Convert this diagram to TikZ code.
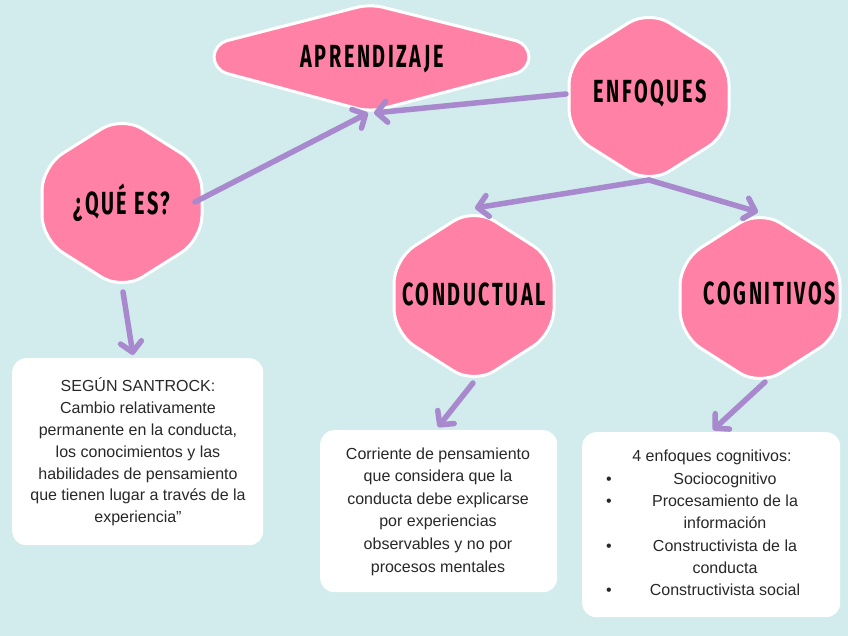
\documentclass[tikz,border=0pt]{standalone}
\usepackage{fontspec}
\setmainfont{Liberation Sans}
\newfontfamily\headfont[FakeStretch=0.62,LetterSpace=8]{Fira Sans}
\usetikzlibrary{arrows.meta}
\definecolor{bgcol}{RGB}{210,235,236}
\definecolor{hexpink}{RGB}{255,129,165}
\definecolor{arrowpurple}{RGB}{168,137,206}
\definecolor{bodygray}{RGB}{40,40,40}
\newcommand\hexat[4]{%
  \path[hexfill] ({#1-#3},{#2-0.42*#4}) -- ({#1},{#2-#4}) -- ({#1+#3},{#2-0.42*#4})
    -- ({#1+#3},{#2+0.42*#4}) -- ({#1},{#2+#4}) -- ({#1-#3},{#2+0.42*#4}) -- cycle;}
\begin{document}
\begin{tikzpicture}[x=1pt,y=-1pt,
  hexfill/.style={fill=hexpink,draw=white,line width=3pt,rounded corners=24pt},
  headtext/.style={font=\headfont\bfseries\fontsize{32}{32}\selectfont,text=black,inner sep=0,anchor=base},
  infobox/.style={fill=white,rounded corners=14pt,inner sep=0,anchor=north west},
  bodytext/.style={font=\fontsize{16}{21.8}\selectfont,align=center,text=bodygray,inner sep=0},
  lineitem/.style={font=\fontsize{16}{21.8}\selectfont,text=bodygray,inner sep=0,anchor=base},
  link/.style={draw=arrowpurple,line width=5.5pt,line cap=round,
    -{Straight Barb[round,length=10pt,width=21pt]}}]
\fill[bgcol] (0,0) rectangle (848,636);
\useasboundingbox (0,0) rectangle (848,636);

% hexagon shapes
\path[hexfill,rounded corners=13pt] (214,44) -- (370,4) -- (529,44) -- (529,70) -- (370,112) -- (214,70) -- cycle;
\hexat{649}{97}{80}{87}
\hexat{122}{203}{80}{87}
\hexat{474}{296}{80}{88}
\hexat{760}{298}{80}{88}

% titles
\node[headtext] (aprend) at (372,68) {APRENDIZAJE};
\node[headtext] (enfoq) at (650,103) {ENFOQUES};
\node[headtext] (quees) at (122,215) {¿QUÉ ES?};
\node[headtext] (conduct) at (474,305) {CONDUCTUAL};
\node[headtext] (cognit) at (770,304) {COGNITIVOS};

% info boxes
\node[infobox,minimum width=251pt,minimum height=187pt] (boxA) at (12,358) {};
\node[infobox,minimum width=237pt,minimum height=162pt] (boxB) at (320,430) {};
\node[infobox,minimum width=258pt,minimum height=185pt] (boxC) at (582,432) {};

\node[bodytext] (txtA) at (138,452) {SEGÚN SANTROCK:\\ Cambio relativamente\\ permanente en la conducta,\\ los conocimientos y las\\ habilidades de pensamiento\\ que tienen lugar a través de la\\ experiencia”};
\node[bodytext,font=\fontsize{16}{22.6}\selectfont] (txtB) at (438,511.5) {Corriente de pensamiento\\ que considera que la\\ conducta debe explicarse\\ por experiencias\\ observables y no por\\ procesos mentales};

\node[lineitem] (cog0) at (712,461.5) {4 enfoques cognitivos:};
\node[lineitem] (cog1) at (725,484.5) {Sociocognitivo};
\node[lineitem] (cog2) at (725,506) {Procesamiento de la};
\node[lineitem] (cog3) at (725,528.5) {información};
\node[lineitem] (cog4) at (725,551.5) {Constructivista de la};
\node[lineitem] (cog5) at (725,573.5) {conducta};
\node[lineitem] (cog6) at (725,595.5) {Constructivista social};
\node[lineitem] (bul1) at (609,484.5) {•};
\node[lineitem] (bul2) at (609,506) {•};
\node[lineitem] (bul3) at (609,551.5) {•};
\node[lineitem] (bul4) at (609,595.5) {•};

% connector endpoints
\coordinate (queR) at (195,202);
\coordinate (aprB1) at (368,113);
\coordinate (aprB2) at (374,113);
\coordinate (enfL) at (566,94);
\coordinate (enfB) at (649,180);
\coordinate (condT) at (475,208);
\coordinate (cogT) at (758,212);
\coordinate (queB) at (123,292);
\coordinate (boxAT) at (133,355);
\coordinate (condB) at (473,383);
\coordinate (boxBT) at (438,427);
\coordinate (cogB) at (765,382);
\coordinate (boxCT) at (713,430);

\draw[link] (queR) -- (aprB1);
\draw[link] (enfL) -- (aprB2);
\draw[link] (enfB) -- (condT);
\draw[link] (enfB) -- (cogT);
\draw[link] (queB) -- (boxAT);
\draw[link] (condB) -- (boxBT);
\draw[link] (cogB) -- (boxCT);
\end{tikzpicture}
\end{document}
